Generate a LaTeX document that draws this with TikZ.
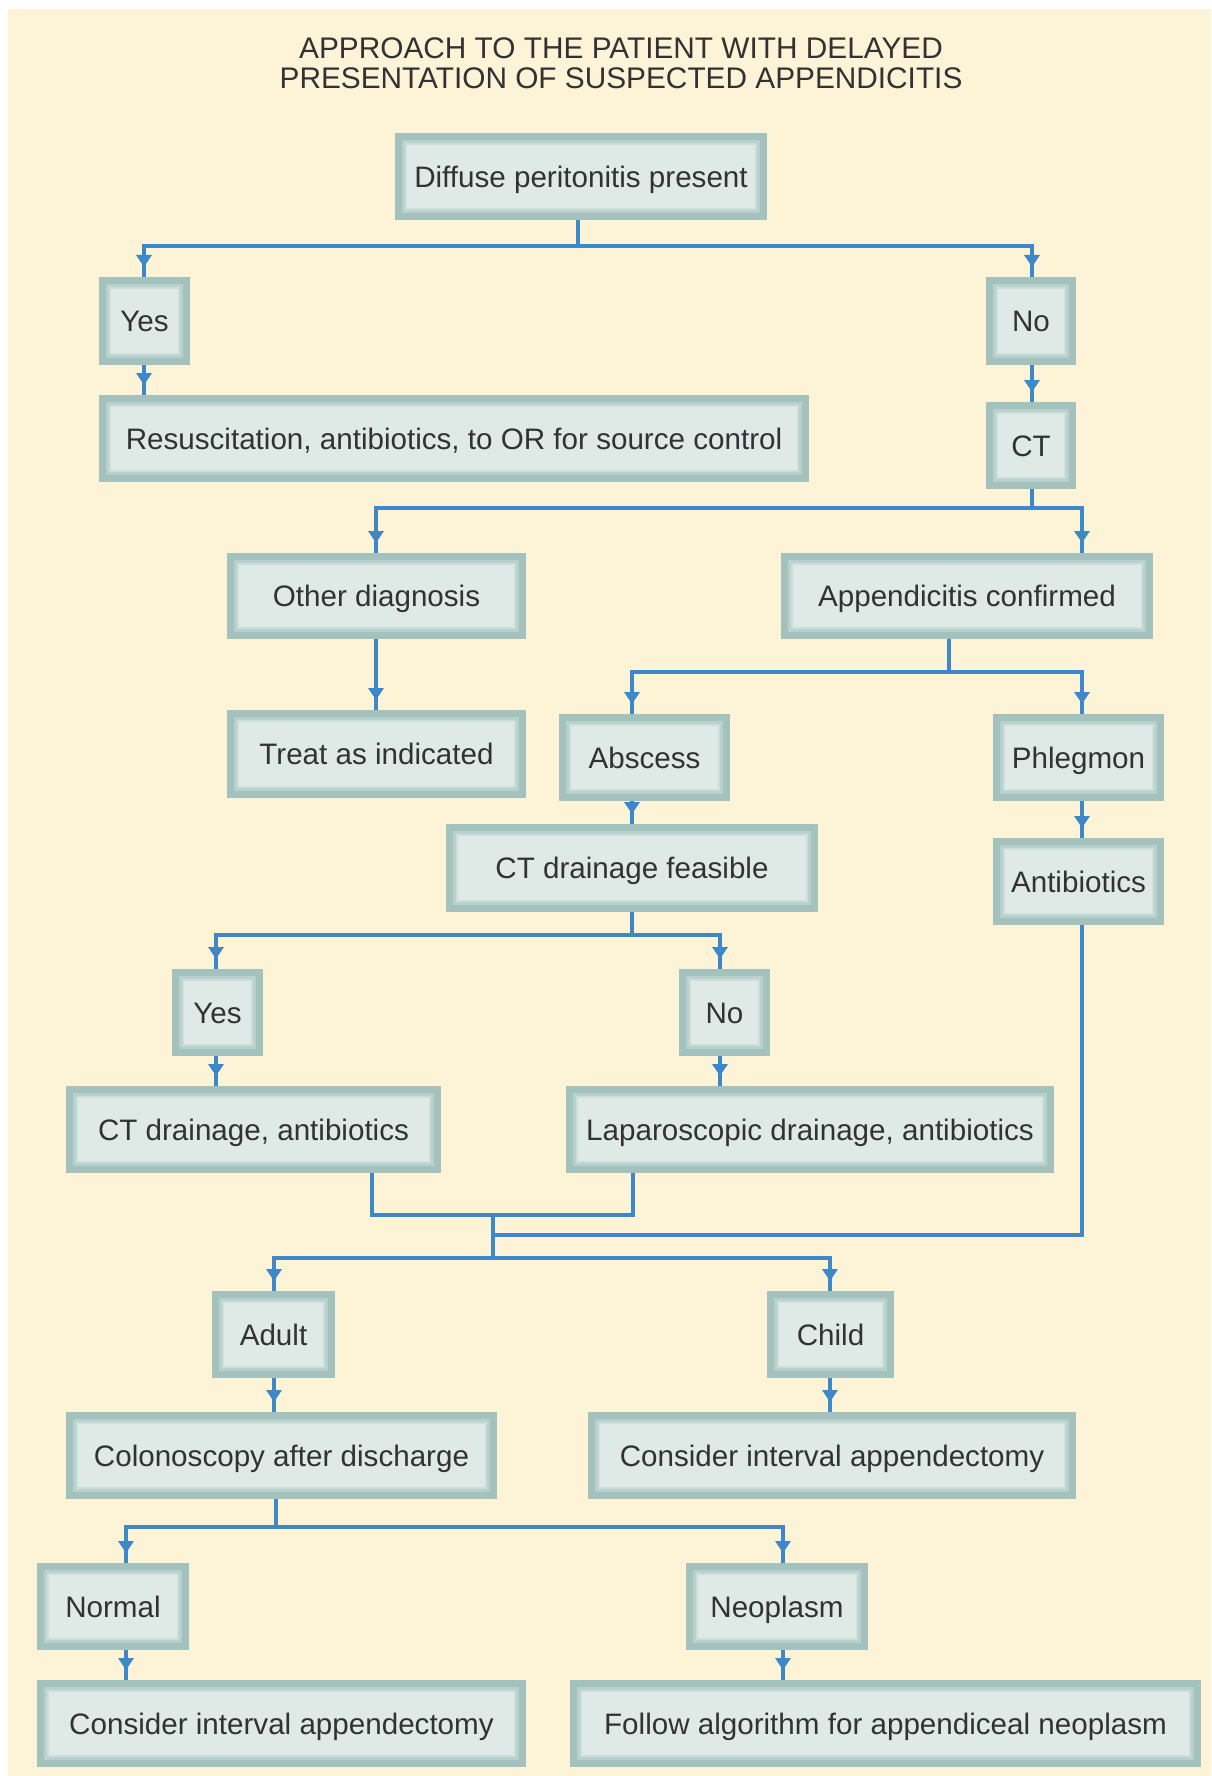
\documentclass[tikz,border=0pt]{standalone}
\usepackage{fontspec}
\setmainfont{Liberation Sans}
\usetikzlibrary{arrows.meta,decorations.markings}
\definecolor{bgc}{RGB}{253,243,214}
\definecolor{boxfill}{RGB}{223,233,229}
\definecolor{frameA}{RGB}{163,194,189}
\definecolor{frameB}{RGB}{185,209,205}
\definecolor{frameC}{RGB}{204,222,218}
\definecolor{lineblue}{RGB}{61,136,200}
\definecolor{textc}{RGB}{50,50,52}
\pgfdeclarelayer{back}
\pgfdeclarelayer{lines}
\pgfsetlayers{back,lines,main}
\tikzset{
  fnode/.style={draw=frameA, line width=7pt, fill=boxfill, inner sep=0pt,
    text=textc, font=\fontsize{29.6}{30}\selectfont, text height=21.3pt, text depth=0pt,
    path picture={
      \draw[frameB, line width=3pt] ([shift={(5pt,5pt)}]path picture bounding box.south west) rectangle ([shift={(-5pt,-5pt)}]path picture bounding box.north east);
      \draw[frameC, line width=2pt] ([shift={(7.5pt,7.5pt)}]path picture bounding box.south west) rectangle ([shift={(-7.5pt,-7.5pt)}]path picture bounding box.north east);
    }},
  conn/.style={draw=lineblue, line width=4pt, line join=miter},
  arr/.style={conn, postaction={decorate, decoration={markings,
      mark=at position -10pt with {\arrow{Triangle[width=15pt,length=12pt]}}}}},
  ttl/.style={text=textc, font=\fontsize{29.8}{30}\selectfont, anchor=base, inner sep=0pt}
}
\newcommand\flowbox[6]{\node[fnode, minimum width={(#4-#2-7)*1pt}, minimum height={(#5-#3-7)*1pt}] (#1) at ({(#2+#4)/2},{(#3+#5)/2}) {#6};}
\begin{document}
\begin{tikzpicture}[x=1pt,y=-1pt]
\useasboundingbox (0,0) rectangle (1211,1776);
\begin{pgfonlayer}{back}
\fill[bgc] (8,9) rectangle (1211,1776);
\end{pgfonlayer}
\node[ttl] (title1) at (621,59) {APPROACH TO THE PATIENT WITH DELAYED};
\node[ttl] (title2) at (621,89) {PRESENTATION OF SUSPECTED APPENDICITIS};
\flowbox{diff}{395}{133}{767}{220}{Diffuse peritonitis present}
\flowbox{yes1}{99}{277}{190}{365}{Yes}
\flowbox{no1}{986}{277}{1076}{365}{No}
\flowbox{resusc}{99}{395}{809}{482}{Resuscitation, antibiotics, to OR for source control}
\flowbox{ct}{986}{402}{1076}{489}{CT}
\flowbox{other}{227}{553}{526}{639}{Other diagnosis}
\flowbox{appc}{781}{553}{1153}{639}{Appendicitis confirmed}
\flowbox{treat}{227}{710}{526}{798}{Treat as indicated}
\flowbox{absc}{559}{714}{730}{801}{Abscess}
\flowbox{phleg}{993}{714}{1164}{801}{Phlegmon}
\flowbox{ctf}{446}{824}{818}{912}{CT drainage feasible}
\flowbox{abx}{993}{838}{1164}{925}{Antibiotics}
\flowbox{yes2}{172}{969}{263}{1056}{Yes}
\flowbox{no2}{679}{969}{770}{1056}{No}
\flowbox{ctd}{66}{1086}{441}{1173}{CT drainage, antibiotics}
\flowbox{lap}{566}{1086}{1054}{1173}{Laparoscopic drainage, antibiotics}
\flowbox{adult}{212}{1291}{335}{1378}{Adult}
\flowbox{child}{767}{1291}{894}{1378}{Child}
\flowbox{colon}{66}{1412}{497}{1499}{Colonoscopy after discharge}
\flowbox{cons1}{588}{1412}{1076}{1499}{Consider interval appendectomy}
\flowbox{normal}{37}{1563}{189}{1650}{Normal}
\flowbox{neo}{686}{1563}{868}{1650}{Neoplasm}
\flowbox{cons2}{37}{1680}{526}{1767}{Consider interval appendectomy}
\flowbox{follow}{570}{1680}{1201}{1767}{Follow algorithm for appendiceal neoplasm}
% junction coordinates
\coordinate (j1) at (578,246); \coordinate (j1l) at (144,246); \coordinate (j1r) at (1032,246);
\coordinate (j2) at (1032,508); \coordinate (j2l) at (376,508); \coordinate (j2r) at (1082,508);
\coordinate (j3) at (949,672); \coordinate (j3l) at (632,672); \coordinate (j3r) at (1082,672);
\coordinate (j4) at (632,935); \coordinate (j4l) at (216,935); \coordinate (j4r) at (720,935);
\coordinate (m1) at (372,1215); \coordinate (m2) at (633,1215); \coordinate (m3) at (493,1215);
\coordinate (m4) at (1082,1235); \coordinate (m5) at (493,1235);
\coordinate (j5) at (493,1258); \coordinate (j5l) at (274,1258); \coordinate (j5r) at (830,1258);
\coordinate (j6) at (276,1527); \coordinate (j6l) at (126,1527); \coordinate (j6r) at (783,1527);
\begin{pgfonlayer}{lines}
\draw[conn] (diff.south -| j1) -- (j1);
\draw[arr] (j1) -- (j1l) -- (j1l |- yes1.north);
\draw[arr] (j1) -- (j1r) -- (j1r |- no1.north);
\draw[arr] (yes1.south -| j1l) -- (j1l |- resusc.north);
\draw[arr] (no1.south -| j1r) -- (j1r |- ct.north);
\draw[conn] (ct.south -| j2) -- (j2);
\draw[arr] (j2) -- (j2l) -- (j2l |- other.north);
\draw[arr] (j2) -- (j2r) -- (j2r |- appc.north);
\draw[arr] (other.south -| j2l) -- (j2l |- treat.north);
\draw[conn] (appc.south -| j3) -- (j3);
\draw[arr] (j3) -- (j3l) -- (j3l |- absc.north);
\draw[arr] (j3) -- (j3r) -- (j3r |- phleg.north);
\draw[arr] (absc.south -| j3l) -- (j3l |- ctf.north);
\draw[arr] (phleg.south -| j3r) -- (j3r |- abx.north);
\draw[conn] (ctf.south -| j4) -- (j4);
\draw[arr] (j4) -- (j4l) -- (j4l |- yes2.north);
\draw[arr] (j4) -- (j4r) -- (j4r |- no2.north);
\draw[arr] (yes2.south -| j4l) -- (j4l |- ctd.north);
\draw[arr] (no2.south -| j4r) -- (j4r |- lap.north);
\draw[conn] (ctd.south -| m1) -- (m1) -- (m2) -- (lap.south -| m2);
\draw[conn] (abx.south -| m4) -- (m4) -- (m5);
\draw[conn] (m3) -- (j5);
\draw[arr] (j5) -- (j5l) -- (j5l |- adult.north);
\draw[arr] (j5) -- (j5r) -- (j5r |- child.north);
\draw[arr] (adult.south -| j5l) -- (j5l |- colon.north);
\draw[arr] (child.south -| j5r) -- (j5r |- cons1.north);
\draw[conn] (colon.south -| j6) -- (j6);
\draw[arr] (j6) -- (j6l) -- (j6l |- normal.north);
\draw[arr] (j6) -- (j6r) -- (j6r |- neo.north);
\draw[arr] (normal.south -| j6l) -- (j6l |- cons2.north);
\draw[arr] (neo.south -| j6r) -- (j6r |- follow.north);
\end{pgfonlayer}
\end{tikzpicture}
\end{document}
